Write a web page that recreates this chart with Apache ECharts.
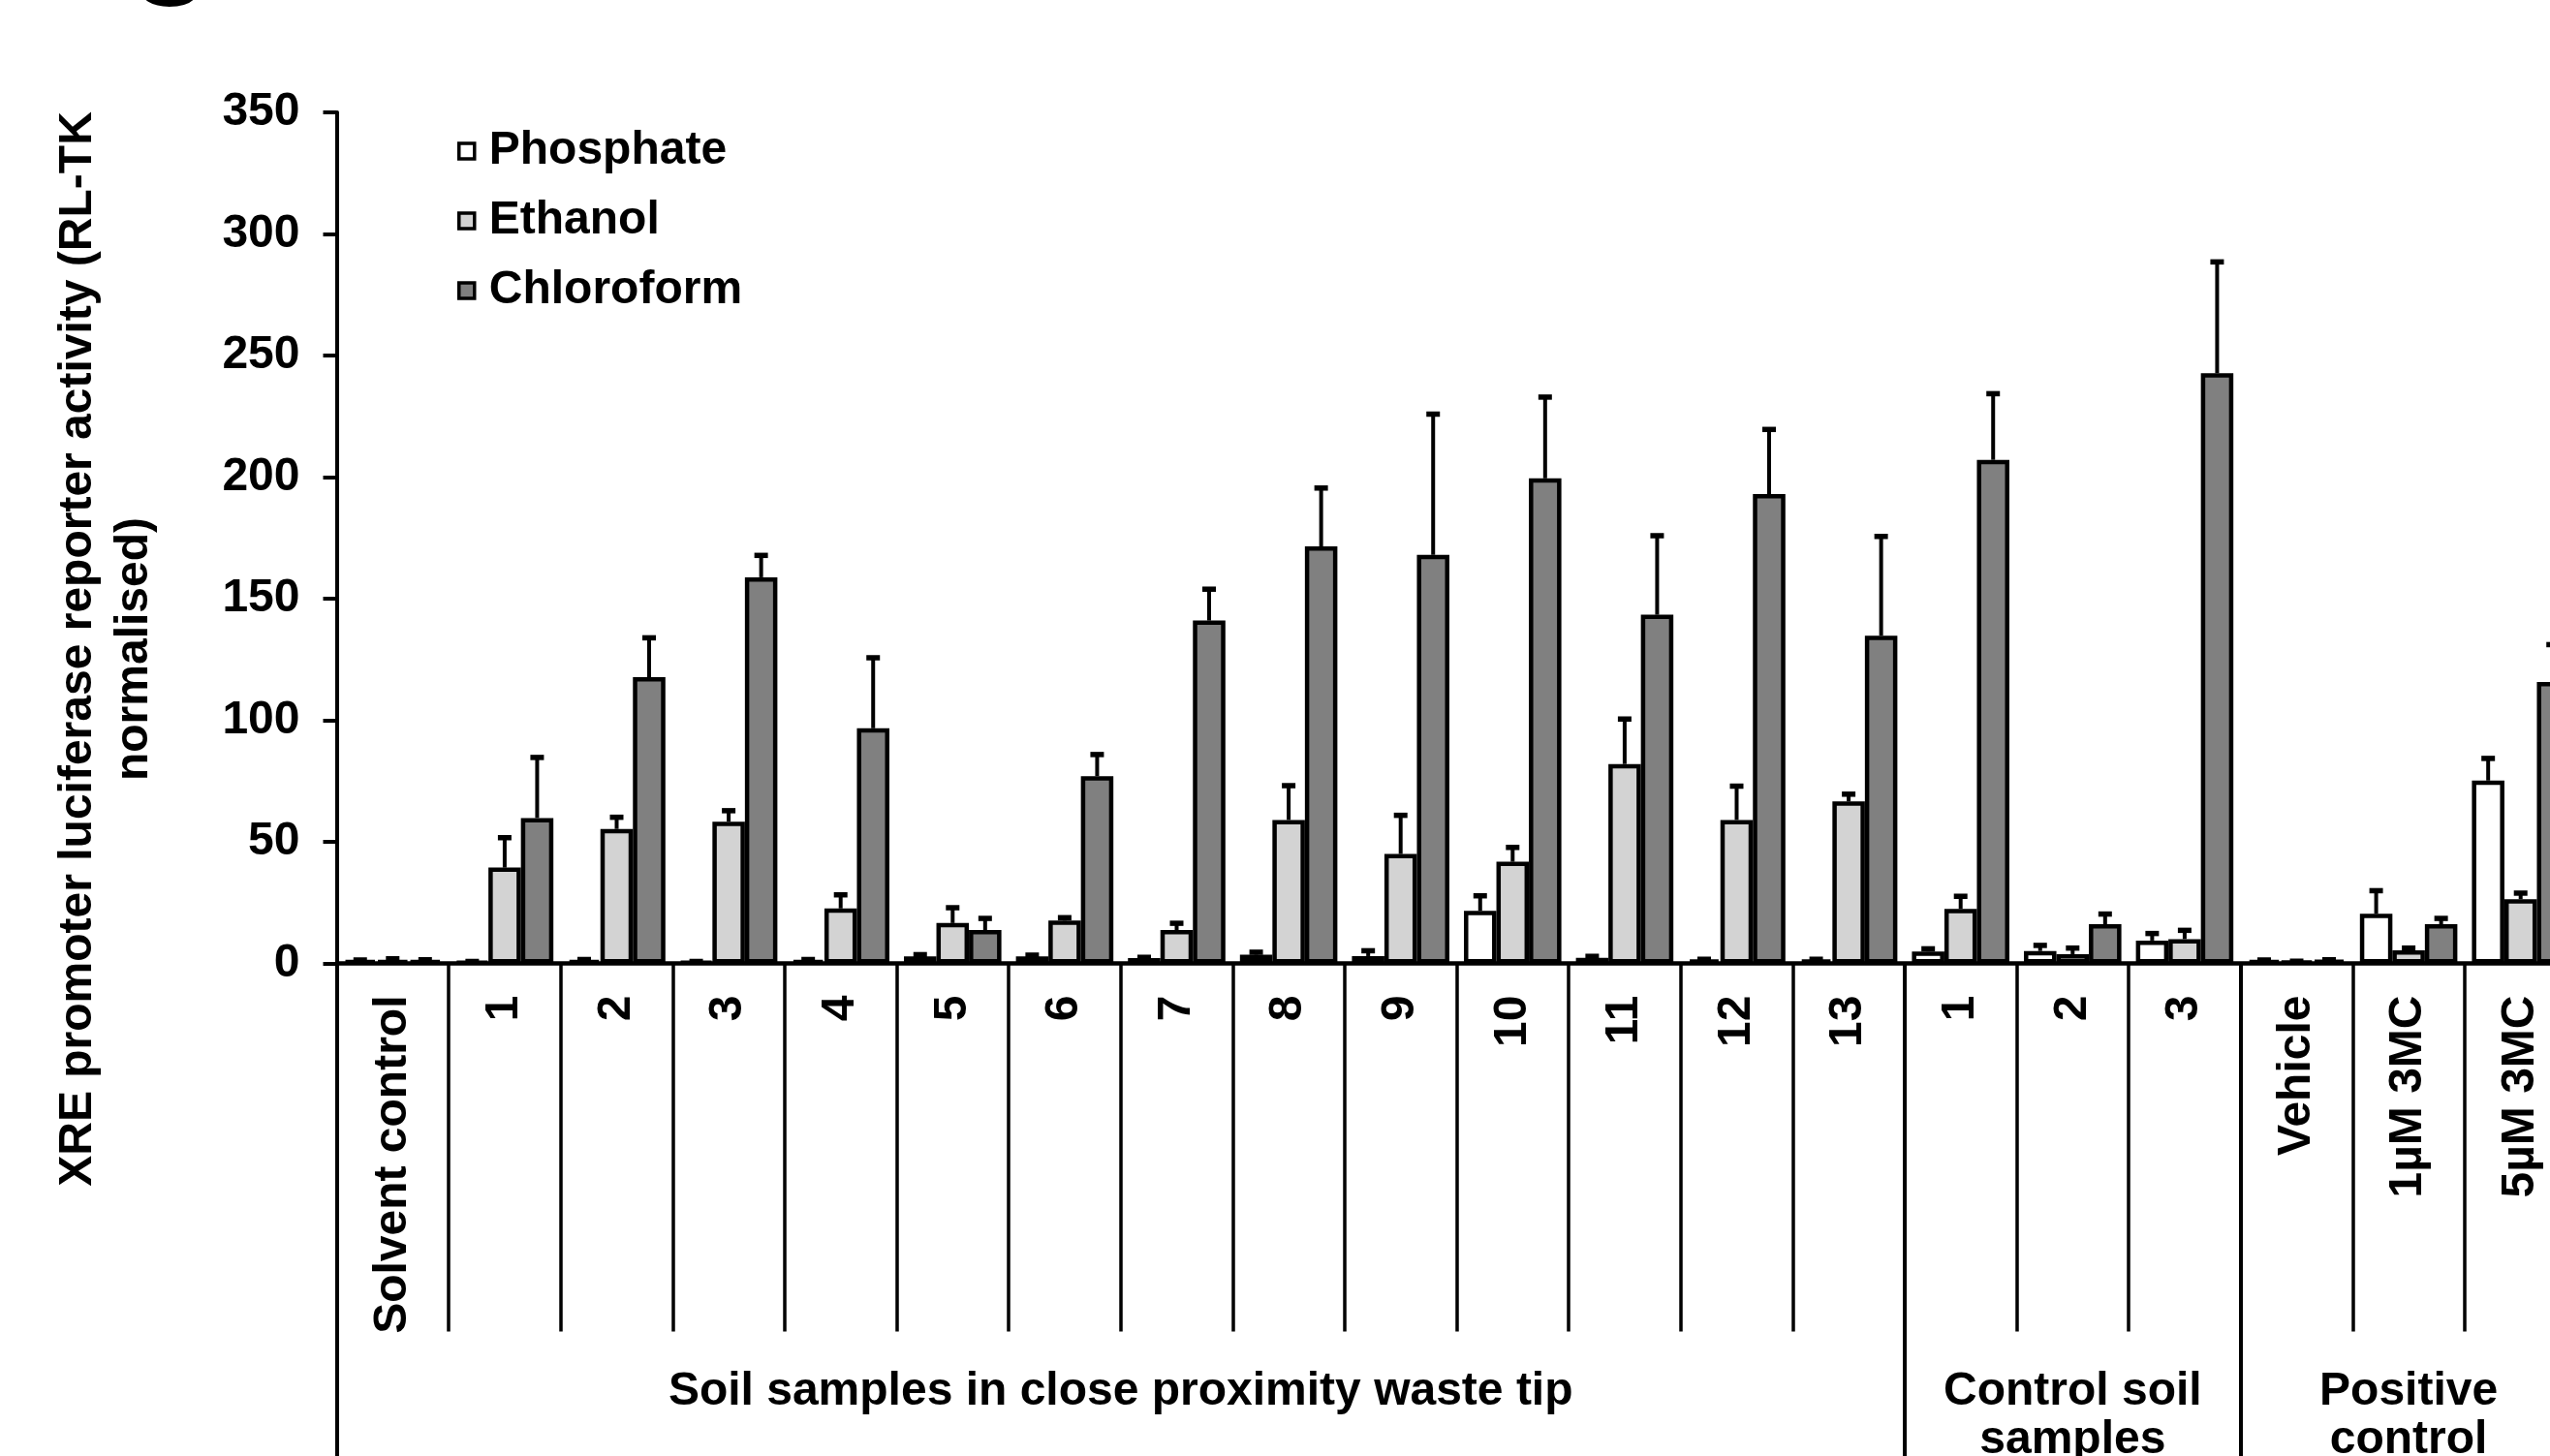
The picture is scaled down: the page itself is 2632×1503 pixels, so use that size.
<!DOCTYPE html>
<html>
<head>
<meta charset="utf-8">
<script src="https://cdn.jsdelivr.net/npm/echarts@6/dist/echarts.min.js"></script>
<style>
  html, body { margin: 0; padding: 0; background: #fff; overflow: hidden; }
  #chart { width: 2632px; height: 1503px; }
</style>
</head>
<body>
<div id="chart"></div>
<script>
// ---- data ----
const categories = ['Solvent control', '1', '2', '3', '4', '5', '6', '7', '8', '9', '10', '11', '12', '13',
                    '1', '2', '3', 'Vehicle', '1µM 3MC', '5µM 3MC'];
const seriesNames = ['Phosphate', 'Ethanol', 'Chloroform'];
const phosphate    = [1.2, 0.6, 1.2, 0.6, 1.2, 2.9, 2.9, 2.2, 3.6, 3.0, 21.6, 2.3, 1.5, 1.5, 4.9, 5.1, 9.4, 1.2, 20.4, 75.2];
const phosphateErr = [0.3, 0.3, 0.5, 0.3, 0.5, 0.8, 0.6, 0.4, 1.1, 2.3, 6.3, 0.7, 0.3, 0.3, 1.2, 2.4, 3.0, 0.3, 9.6, 9.2];
const ethanol      = [1.2, 39.4, 55.3, 58.3, 22.6, 16.6, 17.6, 13.7, 59.0, 45.0, 41.8, 82.0, 59.0, 66.6, 22.4, 3.8, 10.0, 0.8, 5.4, 26.4];
const ethanolErr   = [0.8, 12.4, 4.9, 4.6, 5.7, 6.4, 1.3, 2.9, 14.2, 16.0, 6.0, 18.6, 14.0, 3.1, 5.3, 2.6, 3.7, 0.2, 1.0, 2.6];
const chloroform   = [1.2, 59.8, 117.7, 158.8, 96.7, 13.7, 77.0, 141.0, 171.5, 168.0, 199.5, 143.4, 193.0, 134.8, 207.1, 16.1, 242.7, 1.4, 16.1, 115.7];
const chloroErr    = [0.4, 25.0, 16.3, 9.1, 29.1, 4.9, 9.0, 13.0, 24.1, 58.0, 33.5, 32.6, 26.7, 40.9, 27.3, 4.3, 45.9, 0.2, 2.5, 15.5];
const groupNames = ['Soil samples in close proximity waste tip', 'Control soil\nsamples', 'Positive\ncontrol'];
const groupSizes = [14, 3, 3];
const yMin = 0, yMax = 350, yStep = 50;
const yTitle = 'XRE promoter luciferase reporter activity (RL-TK\nnormalised)';
const panelLetter = 'g';

// ---- derived ----
const values = [phosphate, ethanol, chloroform];
const errors = [phosphateErr, ethanolErr, chloroErr];
const fills = ['#ffffff', '#d3d3d3', '#808080'];
const FONT = '"Liberation Sans", Arial, Helvetica, sans-serif';
const GAP = 0.13;

const groupBounds = [0];
groupSizes.forEach(s => groupBounds.push(groupBounds[groupBounds.length - 1] + s));
const groupCenters = groupSizes.map((s, i) => groupBounds[i] + s / 2);

function errRender(k) {
  return function (params, api) {
    const i = api.value(0), v = api.value(1), e = api.value(2);
    const p0 = api.coord([i, v]);
    const p1 = api.coord([i, v + e]);
    const band = api.size([1, 0])[0];
    const bw = band * (1 - GAP) / 3;
    const x = p0[0] + (k - 1) * bw;
    return {
      type: 'group',
      children: [
        { type: 'line', shape: { x1: x, y1: p0[1], x2: x, y2: p1[1] }, style: { stroke: '#000', lineWidth: 4 } },
        { type: 'rect', shape: { x: x - 7, y: p1[1] - 2.5, width: 14, height: 5.5 }, style: { fill: '#000' } }
      ]
    };
  };
}

const series = [];
seriesNames.forEach((n, k) => {
  series.push({
    name: n,
    type: 'bar',
    xAxisIndex: 0,
    data: values[k],
    barGap: '0%',
    barCategoryGap: (GAP * 100) + '%',
    itemStyle: { color: fills[k], borderColor: '#000', borderWidth: 4.5 },
    emphasis: { disabled: true },
    animation: false,
    z: 2
  });
});
seriesNames.forEach((n, k) => {
  series.push({
    name: n + ' error',
    type: 'custom',
    xAxisIndex: 0,
    data: values[k].map((v, i) => [i, v, errors[k][i]]),
    encode: { x: 0, y: 1 },
    renderItem: errRender(k),
    animation: false,
    silent: true,
    z: 3
  });
});

const chart = echarts.init(document.getElementById('chart'), null, { renderer: 'canvas' });
chart.setOption({
  animation: false,
  backgroundColor: '#ffffff',
  grid: { left: 347.5, width: 2312, top: 116, bottom: 508.5, containLabel: false, outerBoundsMode: 'none' },
  legend: {
    data: seriesNames,
    orient: 'vertical',
    left: 472,
    top: 132,
    padding: 0,
    itemWidth: 16,
    itemHeight: 16,
    itemGap: 24,
    icon: 'rect',
    itemStyle: { borderColor: '#000', borderWidth: 3.5 },
    textStyle: { fontSize: 48, fontWeight: 'bold', fontFamily: FONT, color: '#000', lineHeight: 48, padding: [0, 0, 0, 10] },
    selectedMode: false
  },
  xAxis: [
    {
      type: 'category',
      data: categories,
      position: 'bottom',
      boundaryGap: true,
      axisLine: { show: true, lineStyle: { color: '#000', width: 4.5 } },
      axisTick: { show: true, interval: 0, length: 380, lineStyle: { color: '#000', width: 3.5 } },
      axisLabel: { interval: 0, rotate: 90, margin: 33, fontSize: 48, fontWeight: 'bold', fontFamily: FONT, color: '#000' },
      splitLine: { show: false }
    },
    {
      type: 'value',
      position: 'bottom',
      min: 0,
      max: categories.length,
      axisLine: { show: false },
      axisTick: { show: true, customValues: groupBounds, length: 520, lineStyle: { color: '#000', width: 4 } },
      axisLabel: {
        show: true,
        customValues: groupCenters,
        formatter: function (val) {
          const idx = groupCenters.findIndex(c => Math.abs(c - val) < 1e-6);
          return idx >= 0 ? groupNames[idx] : '';
        },
        margin: 417,
        fontSize: 48,
        fontWeight: 'bold',
        fontFamily: FONT,
        color: '#000',
        lineHeight: 50,
        hideOverlap: false,
        showMinLabel: true,
        showMaxLabel: true
      },
      splitLine: { show: false }
    }
  ],
  yAxis: {
    type: 'value',
    min: yMin,
    max: yMax,
    interval: yStep,
    axisLine: { show: true, lineStyle: { color: '#000', width: 4 } },
    axisTick: { show: true, inside: false, length: 14, lineStyle: { color: '#000', width: 4 } },
    axisLabel: { margin: 38, fontSize: 48, fontWeight: 'bold', fontFamily: FONT, color: '#000' },
    splitLine: { show: false }
  },
  graphic: [
    {
      type: 'text',
      x: 110, y: 670,
      rotation: Math.PI / 2,
      style: {
        text: yTitle,
        x: 0, y: 0,
        align: 'center',
        verticalAlign: 'middle',
        fontSize: 48,
        fontWeight: 'bold',
        fontFamily: FONT,
        lineHeight: 58,
        fill: '#000'
      }
    },
    {
      type: 'text',
      x: 134, y: -62,
      style: {
        text: panelLetter,
        x: 0, y: 0,
        align: 'left',
        verticalAlign: 'middle',
        fontSize: 140,
        fontWeight: 'bold',
        fontFamily: FONT,
        fill: '#000'
      }
    }
  ],
  series: series
});
</script>
</body>
</html>
